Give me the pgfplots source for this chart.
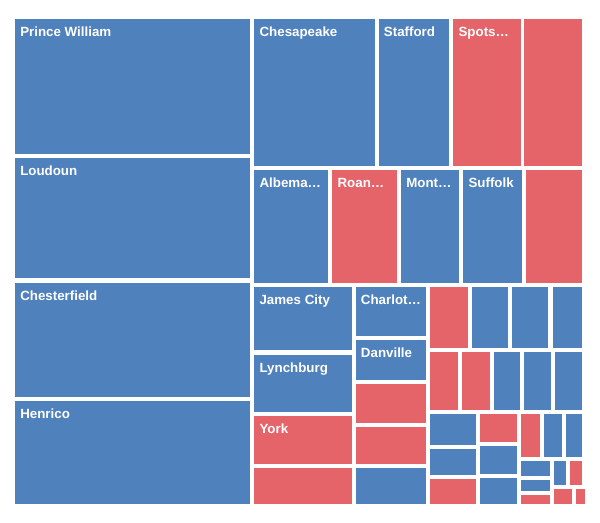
\documentclass[border=0pt]{standalone}
\usepackage{fontspec}
\setmainfont{Liberation Sans}
\usepackage{pgfplots}
\pgfplotsset{compat=1.18}

\definecolor{cblue}{HTML}{4F81BD}
\definecolor{cred}{HTML}{E4646A}

% one tile: colour, x0, y0, x1, y1 (pixels, y downwards)
\newcommand{\tile}[5]{%
  \addplot[fill=#1, draw=none]
    coordinates {(#2,#3) (#4,#3) (#4,#5) (#2,#5)} --cycle;}
% tile with a label at its top left corner
\newcommand{\ltile}[6]{%
  \tile{#1}{#2}{#3}{#4}{#5}
  \node[anchor=base west, inner sep=0pt, text=white,
        font=\fontsize{10}{12}\selectfont\bfseries]
    at (axis cs:{#2+5},{#3+17.5}) {#6};}

\begin{document}
\begin{tikzpicture}
\begin{axis}[
    width=450pt, height=391.5pt,
    scale only axis,
    xmin=0, xmax=600, ymin=0, ymax=522,
    y dir=reverse,
    hide axis,
    clip=false,
]
\path (rel axis cs:0,0) rectangle (rel axis cs:1,1);

% left column
\ltile{cblue}{15}{19.3}{250}{154}{Prince William}
\ltile{cblue}{15}{158}{250}{278.3}{Loudoun}
\ltile{cblue}{15}{282.7}{250}{396.7}{Chesterfield}
\ltile{cblue}{15}{401}{250}{504.3}{Henrico}

% first row
\ltile{cblue}{254.3}{19.3}{375.3}{165.7}{Chesapeake}
\ltile{cblue}{378.7}{19.3}{449.3}{165.7}{Stafford}
\ltile{cred}{453.3}{19.3}{520.7}{165.7}{Spots…}
\tile{cred}{524.3}{19.3}{581.7}{165.7}

% second row
\ltile{cblue}{254.3}{170}{328.3}{282.7}{Albema…}
\ltile{cred}{332.3}{170}{396.7}{282.7}{Roan…}
\ltile{cblue}{401}{170}{459.3}{282.7}{Mont…}
\ltile{cblue}{463.3}{170}{521.7}{282.7}{Suffolk}
\tile{cred}{525.7}{170}{581.7}{282.7}

% lower block, first column
\ltile{cblue}{254.3}{287.3}{351.7}{350}{James City}
\ltile{cblue}{254.3}{354.7}{351.7}{411.7}{Lynchburg}
\ltile{cred}{254.3}{415.7}{351.7}{464}{York}
\tile{cred}{254.3}{468.3}{351.7}{504.3}

% lower block, second column
\ltile{cblue}{355.7}{287.3}{426}{335.7}{Charlot…}
\ltile{cblue}{355.7}{340}{426}{380}{Danville}
\tile{cred}{355.7}{384}{426}{422.7}
\tile{cred}{355.7}{426.7}{426}{464}
\tile{cblue}{355.7}{468.3}{426}{504.3}

% small tiles
\tile{cred}{430}{287.3}{468.3}{347.7}
\tile{cblue}{471.7}{287.3}{508.3}{347.7}
\tile{cblue}{512.3}{287.3}{548.3}{347.7}
\tile{cblue}{552.7}{287.3}{581.7}{347.7}

\tile{cred}{430}{351.7}{458.3}{410}
\tile{cred}{462}{351.7}{490}{410}
\tile{cblue}{493.7}{351.7}{520.3}{410}
\tile{cblue}{524.3}{351.7}{551}{410}
\tile{cblue}{555}{351.7}{581.7}{410}

\tile{cblue}{430}{414.3}{476.3}{444.7}
\tile{cblue}{430}{448.7}{476.3}{475}
\tile{cred}{430}{479.3}{476.3}{504.3}

\tile{cred}{480.3}{414.3}{516.7}{442.3}
\tile{cblue}{480.3}{446.3}{516.7}{474}
\tile{cblue}{480.3}{478}{516.7}{504.3}

\tile{cred}{520.7}{414.3}{540}{457}
\tile{cblue}{544}{414.3}{561.7}{457}
\tile{cblue}{565.7}{414.3}{581.7}{457}

\tile{cblue}{520.7}{461}{549.7}{476.3}
\tile{cblue}{520.7}{480.3}{549.7}{491}
\tile{cred}{520.7}{495}{549.7}{504.3}

\tile{cblue}{553.7}{461}{565.7}{485}
\tile{cred}{569.7}{461}{581.7}{485}
\tile{cred}{553.7}{489}{571.7}{504.3}
\tile{cred}{575.7}{489}{585.3}{504.3}
\end{axis}
\end{tikzpicture}
\end{document}
